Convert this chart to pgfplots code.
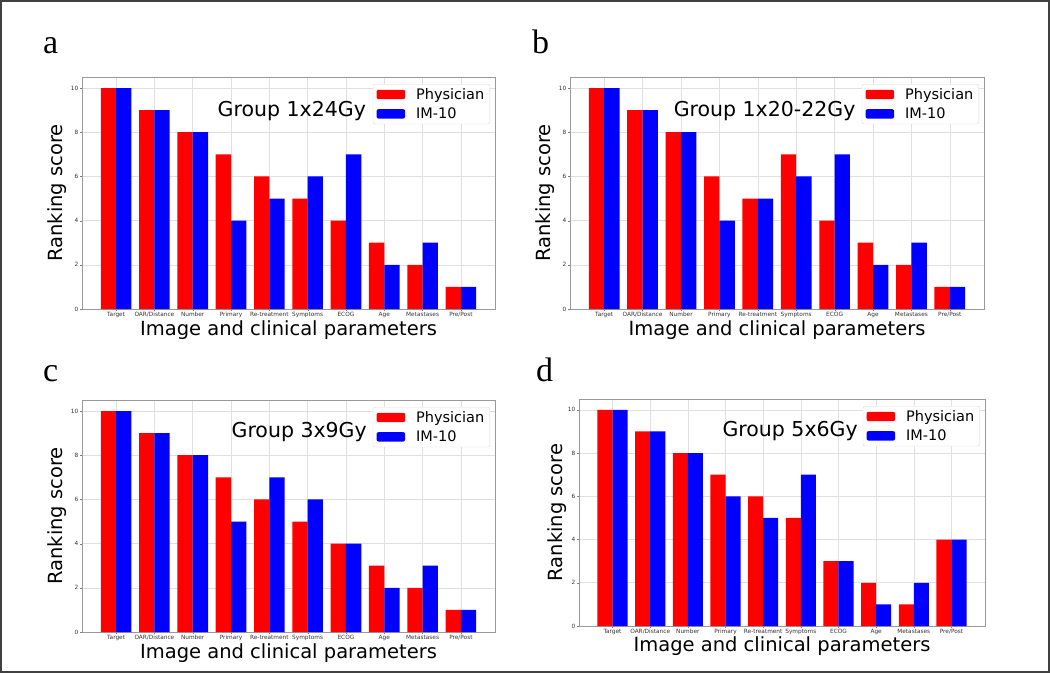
\documentclass[border=0pt]{standalone}
\usepackage{fontspec}
\setmainfont{DejaVu Sans}
\newfontfamily\letterfont{Liberation Serif}
\usepackage{pgfplots}
\usepackage{pgfplotstable}
\pgfplotsset{compat=1.18}

\definecolor{physred}{HTML}{FF0000}
\definecolor{imblue}{HTML}{0000FF}

% x = category index, phys = Physician, im = IM-10
\pgfplotstableread{
x phys im
0 10 10
1 9 9
2 8 8
3 7 4
4 6 5
5 5 6
6 4 7
7 3 2
8 2 3
9 1 1
}\groupA
\pgfplotstableread{
x phys im
0 10 10
1 9 9
2 8 8
3 6 4
4 5 5
5 7 6
6 4 7
7 3 2
8 2 3
9 1 1
}\groupB
\pgfplotstableread{
x phys im
0 10 10
1 9 9
2 8 8
3 7 5
4 6 7
5 5 6
6 4 4
7 3 2
8 2 3
9 1 1
}\groupC
\pgfplotstableread{
x phys im
0 10 10
1 9 9
2 8 8
3 7 6
4 6 5
5 5 7
6 3 3
7 2 1
8 1 2
9 4 4
}\groupD

\tikzset{grouptitle/.style={anchor=east, inner sep=0pt, font=\fontsize{20.5}{24}\selectfont}}

\pgfplotsset{
  panel/.style={
    scale only axis,
    ybar, bar width=0.4,
    xmin=-0.89, xmax=9.89, ymin=0, ymax=10.5,
    xtick={0,...,9},
    xticklabels={Target,OAR/Distance,Number,Primary,Re-treatment,Symptoms,ECOG,Age,Metastases,Pre/Post},
    ytick={0,2,4,6,8,10},
    /pgf/number format/assume math mode=true,
    tick label style={font=\fontsize{5.8}{7}\selectfont, text=black!80},
    xticklabel style={inner sep=0.8pt, text height=4.4pt, text depth=1.3pt},
    yticklabel style={inner sep=1.5pt},
    tick align=outside, tick pos=left, major tick length=2pt,
    tick style={black!50},
    grid=major, major grid style={black!12, line width=0.6pt},
    axis line style={black!40, line width=0.8pt},
    xlabel={Image and clinical parameters},
    ylabel={Ranking score},
    xlabel style={font=\fontsize{19.5}{24}\selectfont, anchor=center,
      at={(axis description cs:0.5,-0.09)}},
    ylabel style={font=\fontsize{19.5}{24}\selectfont, anchor=center},
    legend cell align=left,
    legend style={at={(axis description cs:1,1)}, anchor=north east,
      xshift=-5pt, yshift=-7pt, draw=black!15, rounded corners=2pt,
      fill=white, font=\fontsize{14.5}{17}\selectfont,
      inner xsep=3.5pt, inner ysep=2pt, row sep=3pt,
      /tikz/every odd column/.append style={column sep=9pt}},
  },
  phys/.style={fill=physred, draw=none, bar shift=-0.2,
    legend image code/.code={\fill[##1] (0pt,-4.7pt) rectangle (28.6pt,4.7pt);}},
  im/.style={fill=imblue, draw=none, bar shift=0.2,
    legend image code/.code={\fill[##1] (0pt,-4.7pt) rectangle (28.6pt,4.7pt);}},
}

\begin{document}
\begin{tikzpicture}
\path (0,0) rectangle (1050pt,-673pt);
\draw[line width=2pt, black!75] (1pt,-1pt) rectangle (1049pt,-672pt);

\node[anchor=base west, inner sep=0pt, font=\letterfont\fontsize{34}{40}\selectfont] at (43pt,-53pt) {a};
\node[anchor=base west, inner sep=0pt, font=\letterfont\fontsize{34}{40}\selectfont] at (532pt,-53pt) {b};
\node[anchor=base west, inner sep=0pt, font=\letterfont\fontsize{34}{40}\selectfont] at (43pt,-381pt) {c};
\node[anchor=base west, inner sep=0pt, font=\letterfont\fontsize{34}{40}\selectfont] at (536pt,-381pt) {d};

% panel a
\begin{axis}[panel, at={(82pt,-309pt)}, anchor=south west, width=413pt, height=232pt,
  ylabel style={at={(axis description cs:-0.06,0.5)}}]
\addplot[phys] table[x=x, y=phys] {\groupA};
\addplot[im] table[x=x, y=im] {\groupA};
\legend{Physician, IM-10}
\node[grouptitle] at (rel axis cs:0.688,0.855) {Group 1x24Gy};
\end{axis}

% panel b
\begin{axis}[panel, at={(570pt,-309pt)}, anchor=south west, width=414pt, height=232pt,
  ylabel style={at={(axis description cs:-0.06,0.5)}}]
\addplot[phys] table[x=x, y=phys] {\groupB};
\addplot[im] table[x=x, y=im] {\groupB};
\legend{Physician, IM-10}
\node[grouptitle] at (rel axis cs:0.69,0.855) {Group 1x20-22Gy};
\end{axis}

% panel c
\begin{axis}[panel, at={(82pt,-632pt)}, anchor=south west, width=413pt, height=232pt,
  ylabel style={at={(axis description cs:-0.06,0.5)}}]
\addplot[phys] table[x=x, y=phys] {\groupC};
\addplot[im] table[x=x, y=im] {\groupC};
\legend{Physician, IM-10}
\node[grouptitle] at (rel axis cs:0.69,0.86) {Group 3x9Gy};
\end{axis}

% panel d
\begin{axis}[panel, at={(579pt,-626pt)}, anchor=south west, width=406pt, height=227pt,
  ylabel style={at={(axis description cs:-0.054,0.5)}}]
\addplot[phys] table[x=x, y=phys] {\groupD};
\addplot[im] table[x=x, y=im] {\groupD};
\legend{Physician, IM-10}
\node[grouptitle] at (rel axis cs:0.687,0.86) {Group 5x6Gy};
\end{axis}
\end{tikzpicture}
\end{document}
